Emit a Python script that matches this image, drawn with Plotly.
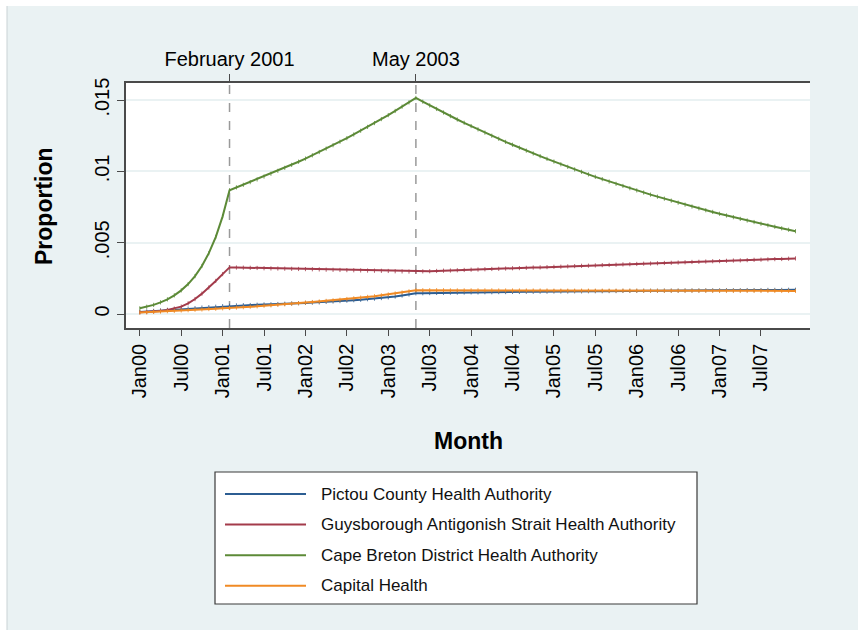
import plotly.graph_objects as go

# ---------------- data ----------------
month_index = list(range(96))  # Jan 2000 .. Dec 2007 (monthly)

tick_months = [0, 6, 12, 18, 24, 30, 36, 42, 48, 54, 60, 66, 72, 78, 84, 90]
tick_labels = ["Jan00", "Jul00", "Jan01", "Jul01", "Jan02", "Jul02", "Jan03", "Jul03",
               "Jan04", "Jul04", "Jan05", "Jul05", "Jan06", "Jul06", "Jan07", "Jul07"]

event_months = [13, 40]
event_labels = ["February 2001", "May 2003"]

y_ticks = [0, 0.005, 0.01, 0.015]
y_tick_labels = ["0", ".005", ".01", ".015"]

series_names = ["Pictou County Health Authority",
                "Guysborough Antigonish Strait Health Authority",
                "Cape Breton District Health Authority",
                "Capital Health"]
series_colors = ["#2c5d92", "#a33b4b", "#5c8a37", "#f08a24"]

pictou = [0.00015, 0.00018, 0.00022, 0.00025, 0.00028, 0.00032, 0.00035, 0.00038, 0.00041, 0.00045,
          0.00048, 0.00051, 0.00055, 0.00058, 0.00060, 0.00062, 0.00063, 0.00065, 0.00067, 0.00068,
          0.00070, 0.00072, 0.00074, 0.00076, 0.00078, 0.00080, 0.00082, 0.00085, 0.00088, 0.00091,
          0.00094, 0.00097, 0.00100, 0.00104, 0.00108, 0.00112, 0.00117, 0.00123, 0.00130, 0.00137,
          0.00145, 0.00146, 0.00147, 0.00148, 0.00149, 0.00150, 0.00150, 0.00151, 0.00152, 0.00152,
          0.00153, 0.00153, 0.00154, 0.00154, 0.00155, 0.00155, 0.00156, 0.00156, 0.00157, 0.00157,
          0.00158, 0.00158, 0.00158, 0.00159, 0.00159, 0.00160, 0.00160, 0.00160, 0.00161, 0.00161,
          0.00162, 0.00162, 0.00162, 0.00163, 0.00163, 0.00163, 0.00164, 0.00164, 0.00164, 0.00165,
          0.00165, 0.00165, 0.00166, 0.00166, 0.00166, 0.00167, 0.00167, 0.00167, 0.00168, 0.00168,
          0.00168, 0.00169, 0.00169, 0.00169, 0.00170, 0.00170]

guysborough = [0.00012, 0.00014, 0.00017, 0.00022, 0.00029, 0.00038, 0.00052, 0.00075, 0.00105, 0.00143,
               0.00186, 0.00232, 0.00280, 0.00327, 0.00326, 0.00325, 0.00324, 0.00323, 0.00321, 0.00320,
               0.00319, 0.00318, 0.00317, 0.00316, 0.00315, 0.00314, 0.00313, 0.00311, 0.00310, 0.00309,
               0.00308, 0.00307, 0.00306, 0.00305, 0.00304, 0.00303, 0.00302, 0.00300, 0.00299, 0.00298,
               0.00297, 0.00299, 0.00300, 0.00302, 0.00304, 0.00305, 0.00307, 0.00309, 0.00311, 0.00312,
               0.00314, 0.00316, 0.00317, 0.00319, 0.00321, 0.00322, 0.00324, 0.00326, 0.00327, 0.00329,
               0.00331, 0.00332, 0.00334, 0.00336, 0.00338, 0.00339, 0.00341, 0.00343, 0.00344, 0.00346,
               0.00348, 0.00349, 0.00351, 0.00353, 0.00354, 0.00356, 0.00358, 0.00359, 0.00361, 0.00363,
               0.00365, 0.00366, 0.00368, 0.00370, 0.00371, 0.00373, 0.00375, 0.00376, 0.00378, 0.00380,
               0.00381, 0.00383, 0.00385, 0.00386, 0.00388, 0.00390]

cape_breton = [0.00040, 0.00051, 0.00064, 0.00082, 0.00103, 0.00131, 0.00166, 0.00210, 0.00266, 0.00337,
               0.00427, 0.00540, 0.00685, 0.00868, 0.00888, 0.00906, 0.00925, 0.00944, 0.00964, 0.00984,
               0.01004, 0.01025, 0.01046, 0.01068, 0.01090, 0.01113, 0.01136, 0.01160, 0.01184, 0.01208,
               0.01233, 0.01259, 0.01285, 0.01312, 0.01339, 0.01367, 0.01395, 0.01424, 0.01454, 0.01484,
               0.01515, 0.01489, 0.01463, 0.01438, 0.01413, 0.01388, 0.01364, 0.01341, 0.01318, 0.01295,
               0.01272, 0.01250, 0.01229, 0.01207, 0.01187, 0.01166, 0.01146, 0.01126, 0.01107, 0.01088,
               0.01069, 0.01050, 0.01032, 0.01014, 0.00997, 0.00979, 0.00962, 0.00946, 0.00929, 0.00913,
               0.00898, 0.00882, 0.00867, 0.00852, 0.00837, 0.00823, 0.00809, 0.00795, 0.00781, 0.00767,
               0.00754, 0.00741, 0.00728, 0.00716, 0.00703, 0.00691, 0.00679, 0.00667, 0.00656, 0.00645,
               0.00633, 0.00622, 0.00612, 0.00601, 0.00591, 0.00581]

capital = [0.00010, 0.00012, 0.00015, 0.00017, 0.00020, 0.00022, 0.00025, 0.00027, 0.00030, 0.00032,
           0.00035, 0.00037, 0.00040, 0.00042, 0.00045, 0.00048, 0.00051, 0.00054, 0.00058, 0.00061,
           0.00064, 0.00068, 0.00072, 0.00076, 0.00080, 0.00084, 0.00088, 0.00092, 0.00096, 0.00100,
           0.00105, 0.00110, 0.00115, 0.00120, 0.00125, 0.00131, 0.00137, 0.00144, 0.00151, 0.00159,
           0.00167, 0.00167, 0.00167, 0.00167, 0.00167, 0.00166, 0.00166, 0.00166, 0.00166, 0.00166,
           0.00166, 0.00166, 0.00165, 0.00165, 0.00165, 0.00165, 0.00165, 0.00165, 0.00165, 0.00165,
           0.00164, 0.00164, 0.00164, 0.00164, 0.00164, 0.00164, 0.00164, 0.00164, 0.00164, 0.00164,
           0.00164, 0.00164, 0.00164, 0.00163, 0.00163, 0.00163, 0.00163, 0.00163, 0.00163, 0.00163,
           0.00163, 0.00163, 0.00163, 0.00162, 0.00162, 0.00162, 0.00162, 0.00162, 0.00162, 0.00162,
           0.00162, 0.00162, 0.00162, 0.00162, 0.00162, 0.00162]

series_values = [pictou, guysborough, cape_breton, capital]

# ---------------- layout geometry ----------------
W, H = 858, 630
ML, MR, MT, MB = 126, 48, 83, 302
PW, PH = W - ML - MR, H - MT - MB


def px(x):
    return (x - ML) / PW


def py(y):
    return (H - MB - y) / PH


FONT = "Liberation Sans, Arial, Helvetica, sans-serif"
BG = "#eaf2f3"
AXIS = "#4a4a4a"

fig = go.Figure()

for name, vals, col in zip(series_names, series_values, series_colors):
    fig.add_trace(go.Scatter(
        x=month_index, y=vals, mode="lines+markers", name=name,
        line=dict(color=col, width=2),
        marker=dict(symbol="line-ns-open", size=3, color=col, line=dict(color=col, width=0.8)),
        showlegend=False, hoverinfo="skip"))

# dummy trace for the top axis
fig.add_trace(go.Scatter(x=event_months, y=[None] * len(event_months), xaxis="x2",
                         mode="markers", showlegend=False, hoverinfo="skip"))

shapes = []
# white border strips of the outer frame
shapes.append(dict(type="rect", xref="paper", yref="paper", x0=px(0), x1=px(W), y0=py(6), y1=py(0),
                   fillcolor="white", line=dict(width=0), layer="below"))
shapes.append(dict(type="rect", xref="paper", yref="paper", x0=px(0), x1=px(7), y0=py(H), y1=py(0),
                   fillcolor="white", line=dict(width=0), layer="below"))
shapes.append(dict(type="line", xref="paper", yref="paper", x0=px(7), x1=px(7), y0=py(H), y1=py(6),
                   line=dict(color="#c9d2d5", width=1), layer="below"))

# event dashed lines
for m in event_months:
    shapes.append(dict(type="line", xref="x", yref="paper", x0=m, x1=m, y0=0, y1=1,
                       line=dict(color="#9a9a9a", width=1.5, dash="dash"), layer="below"))

# custom legend
LX0, LX1, LY0, LY1 = 215, 697, 472, 604
shapes.append(dict(type="rect", xref="paper", yref="paper", x0=px(LX0), x1=px(LX1),
                   y0=py(LY1), y1=py(LY0), fillcolor="white",
                   line=dict(color="#3a3a3a", width=1.2)))
annotations = []
for i, (name, col) in enumerate(zip(series_names, series_colors)):
    yc = 494 + i * 30.6
    shapes.append(dict(type="line", xref="paper", yref="paper", x0=px(225), x1=px(306),
                       y0=py(yc), y1=py(yc), line=dict(color=col, width=2)))
    annotations.append(dict(xref="paper", yref="paper", x=px(319), y=py(yc), text=name,
                            showarrow=False, xanchor="left", yanchor="middle",
                            font=dict(family=FONT, size=17, color="#111")))

# axis titles
annotations.append(dict(xref="paper", yref="paper", x=px(468), y=py(441), text="<b>Month</b>",
                        showarrow=False, xanchor="center", yanchor="middle",
                        font=dict(family=FONT, size=23, color="#000")))
annotations.append(dict(xref="paper", yref="paper", x=px(44), y=py(206), text="<b>Proportion</b>",
                        showarrow=False, xanchor="center", yanchor="middle", textangle=-90,
                        font=dict(family=FONT, size=23, color="#000")))

xrange = [-2.0, 97.1]
yrange = [-0.00098, 0.0162]

fig.update_layout(
    width=W, height=H,
    margin=dict(l=ML, r=MR, t=MT, b=MB, autoexpand=False),
    paper_bgcolor=BG, plot_bgcolor="white",
    font=dict(family=FONT, size=20, color="#000"),
    shapes=shapes, annotations=annotations,
    xaxis=dict(range=xrange, tickmode="array", tickvals=tick_months, ticktext=tick_labels,
               tickangle=-90, ticks="outside", ticklen=6, tickwidth=1.3, tickcolor=AXIS,
               showline=True, linecolor=AXIS, linewidth=1.5, showgrid=False, zeroline=False,
               tickfont=dict(family=FONT, size=20, color="#000")),
    xaxis2=dict(range=xrange, overlaying="x", side="top", tickmode="array",
                tickvals=event_months, ticktext=event_labels, tickangle=0,
                ticks="outside", ticklen=7, tickwidth=1.3, tickcolor=AXIS,
                showline=True, linecolor=AXIS, linewidth=1.5, showgrid=False, zeroline=False,
                tickfont=dict(family=FONT, size=20, color="#000")),
    yaxis=dict(range=yrange, tickmode="array", tickvals=y_ticks, ticktext=y_tick_labels,
               tickangle=-90, ticks="outside", ticklen=7, tickwidth=1.3, tickcolor=AXIS,
               showline=True, linecolor=AXIS, linewidth=1.5, showgrid=True, gridcolor=BG,
               gridwidth=1.5, zeroline=False,
               tickfont=dict(family=FONT, size=20, color="#000")),
)

fig.write_html("out.html")
